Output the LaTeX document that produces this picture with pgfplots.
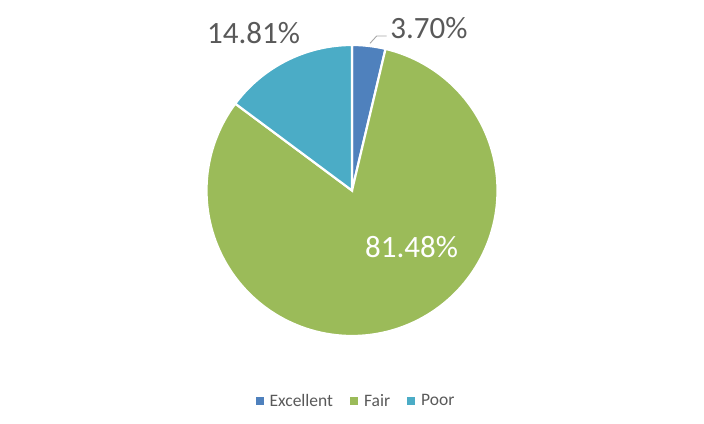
\documentclass[border=0pt]{standalone}
\usepackage{pgfplots}
\pgfplotsset{compat=1.18}
\usepackage{fontspec}
\setmainfont{Carlito}
\definecolor{cExc}{HTML}{4F81BD}
\definecolor{cFair}{HTML}{9BBB59}
\definecolor{cPoor}{HTML}{4BACC6}
\definecolor{lbl}{HTML}{595959}
% data (percent)
\def\vExc{3.70}
\def\vFair{81.48}
\def\vPoor{14.81}
\begin{document}
\begin{tikzpicture}
\useasboundingbox (0,0) rectangle (704bp,424bp);
\pgfmathsetmacro{\aA}{90}
\pgfmathsetmacro{\aB}{90-3.6*\vExc}
\pgfmathsetmacro{\aC}{\aB-3.6*\vFair}
\pgfmathsetmacro{\aD}{\aC-3.6*\vPoor}
\def\cx{352}
\def\cy{233.5}
\def\R{145.5}
\begin{axis}[
  at={(0,0)}, anchor=south west,
  scale only axis, width=704bp, height=424bp,
  xmin=0, xmax=704, ymin=0, ymax=424,
  hide axis, clip=false,
  legend columns=-1,
  legend style={at={(axis cs:356,23)}, anchor=center, draw=none, fill=none,
    font=\fontsize{17.5bp}{19bp}\selectfont\color{lbl},
    /tikz/every odd column/.append style={column sep=4bp},
    /tikz/every even column/.append style={column sep=15bp}},
  legend image code/.code={\fill[#1,draw=none] (0bp,-4bp) rectangle (8bp,4bp);},
]
\addplot[fill=cExc, draw=white, line width=2.2bp, domain=\aB:\aA, samples=20, variable=\t]
  ({\cx+\R*cos(\t)}, {\cy+\R*sin(\t)}) -- (axis cs:\cx,\cy) -- cycle;
\addlegendentry{Excellent}
\addplot[fill=cFair, draw=white, line width=2.2bp, domain=\aC:\aB, samples=150, variable=\t]
  ({\cx+\R*cos(\t)}, {\cy+\R*sin(\t)}) -- (axis cs:\cx,\cy) -- cycle;
\addlegendentry{Fair}
\addplot[fill=cPoor, draw=white, line width=2.2bp, domain=\aD:\aC, samples=40, variable=\t]
  ({\cx+\R*cos(\t)}, {\cy+\R*sin(\t)}) -- (axis cs:\cx,\cy) -- cycle;
\addlegendentry{Poor}
\draw[color=black!35, line width=0.9bp] (axis cs:370,380.7) -- (axis cs:376.7,388) -- (axis cs:386.7,388);
\node[text=lbl, font=\fontsize{31bp}{33bp}\selectfont, anchor=center] at (axis cs:429,396) {3.70\%};
\node[text=lbl, font=\fontsize{31bp}{33bp}\selectfont, anchor=center] at (axis cs:253.5,391) {14.81\%};
\node[text=white, font=\fontsize{31bp}{33bp}\selectfont, anchor=center] at (axis cs:411.5,177) {81.48\%};
\end{axis}
\end{tikzpicture}
\end{document}
